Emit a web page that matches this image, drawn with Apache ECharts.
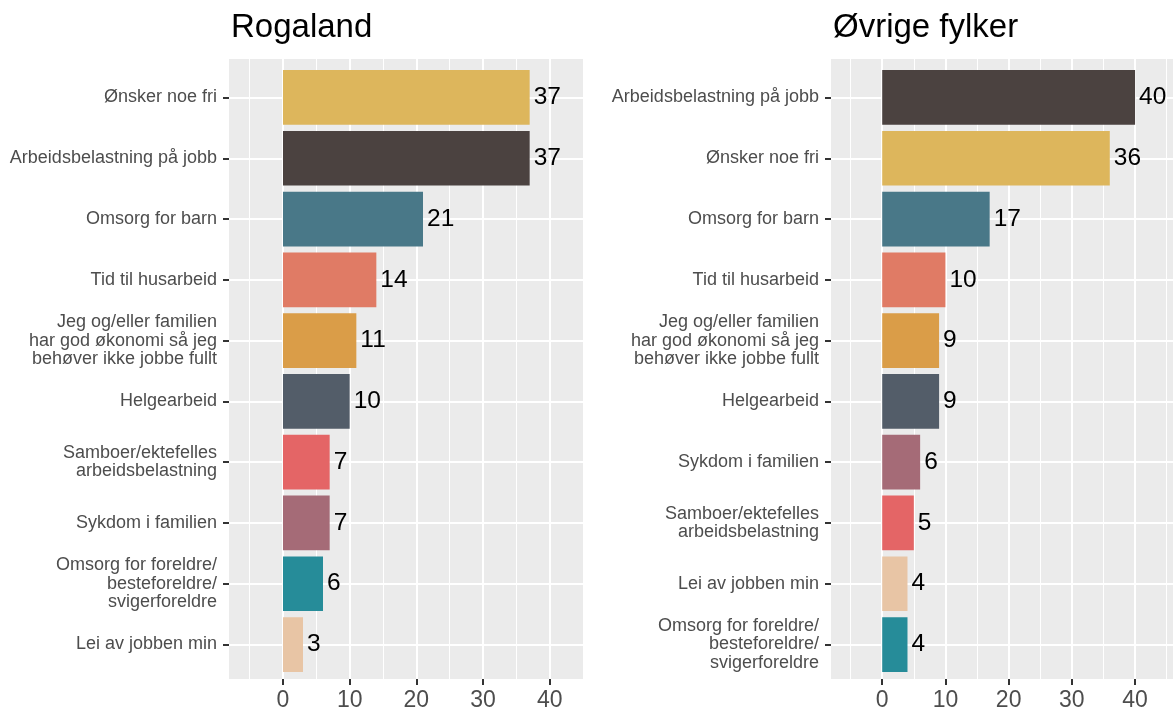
<!DOCTYPE html>
<html>
<head>
<meta charset="utf-8">
<script src="https://cdn.jsdelivr.net/npm/echarts@6/dist/echarts.min.js"></script>
<style>
  html, body { margin: 0; padding: 0; background: #fff; }
  #chart { width: 1173px; height: 710px; }
</style>
</head>
<body>
<div id="chart"></div>
<script>
  // data, top to bottom as shown
  var rogalandCats = [
    'Ønsker noe fri',
    'Arbeidsbelastning på jobb',
    'Omsorg for barn',
    'Tid til husarbeid',
    'Jeg og/eller familien\nhar god økonomi så jeg\nbehøver ikke jobbe fullt',
    'Helgearbeid',
    'Samboer/ektefelles\narbeidsbelastning',
    'Sykdom i familien',
    'Omsorg for foreldre/\nbesteforeldre/\nsvigerforeldre',
    'Lei av jobben min'
  ];
  var rogalandValues = [37, 37, 21, 14, 11, 10, 7, 7, 6, 3];

  var ovrigeCats = [
    'Arbeidsbelastning på jobb',
    'Ønsker noe fri',
    'Omsorg for barn',
    'Tid til husarbeid',
    'Jeg og/eller familien\nhar god økonomi så jeg\nbehøver ikke jobbe fullt',
    'Helgearbeid',
    'Sykdom i familien',
    'Samboer/ektefelles\narbeidsbelastning',
    'Lei av jobben min',
    'Omsorg for foreldre/\nbesteforeldre/\nsvigerforeldre'
  ];
  var ovrigeValues = [40, 36, 17, 10, 9, 9, 6, 5, 4, 4];

  var majorTicks = [0, 10, 20, 30, 40];
  var minorTicks = [-5, 5, 15, 25, 35, 45];

  var catColors = {
    'Ønsker noe fri': '#DDB65C',
    'Arbeidsbelastning på jobb': '#4B4240',
    'Omsorg for barn': '#497888',
    'Tid til husarbeid': '#E07B65',
    'Jeg og/eller familien\nhar god økonomi så jeg\nbehøver ikke jobbe fullt': '#DA9D48',
    'Helgearbeid': '#535D69',
    'Samboer/ektefelles\narbeidsbelastning': '#E46566',
    'Sykdom i familien': '#A56B77',
    'Omsorg for foreldre/\nbesteforeldre/\nsvigerforeldre': '#268C99',
    'Lei av jobben min': '#E8C5A5'
  };

  var FONT = 'Liberation Sans, Arial, sans-serif';
  var PANEL_TOP = 59, PANEL_H = 620;
  // ggplot style discrete padding: 0.6 units each side of 10 categories
  var unit = PANEL_H / 10.2;
  var DATA_TOP = PANEL_TOP + 0.1 * unit + 2, DATA_H = 10 * unit;

  function barData(cats, values) {
    return values.map(function (v, i) {
      return { value: v, itemStyle: { color: catColors[cats[i]] } };
    });
  }

  // panel (background) grid axes: vertical grid lines, x ticks and labels
  function panelXAxes(gridIndex, max) {
    return [{
      type: 'value', gridIndex: gridIndex, min: -8.1, max: max,
      axisLine: { show: false, onZero: false },
      axisTick: { show: true, length: 6, customValues: majorTicks, lineStyle: { color: '#333', width: 2 } },
      axisLabel: { customValues: majorTicks, margin: 10, fontSize: 23, color: '#4D4D4D', fontFamily: FONT },
      splitLine: { show: true, lineStyle: { color: '#fff', width: 2 } }
    }, {
      type: 'value', gridIndex: gridIndex, min: -8.1, max: max, position: 'top',
      axisLine: { show: false, onZero: false },
      axisTick: { show: false, customValues: minorTicks },
      axisLabel: { show: false },
      splitLine: { show: true, lineStyle: { color: '#fff', width: 1 } }
    }];
  }

  function dataXAxis(gridIndex, max) {
    return { type: 'value', gridIndex: gridIndex, min: -8.1, max: max, show: false, axisLine: { onZero: false }, splitLine: { show: false } };
  }

  function dummyYAxis(gridIndex) {
    return { type: 'value', gridIndex: gridIndex, show: false, axisLine: { onZero: false }, splitLine: { show: false } };
  }

  function catYAxis(gridIndex, cats) {
    return {
      type: 'category', gridIndex: gridIndex, data: cats, inverse: true,
      axisLine: { show: false, onZero: false },
      axisTick: { show: true, alignWithLabel: true, length: 6, lineStyle: { color: '#333', width: 2 } },
      axisLabel: { margin: 12, fontSize: 18, lineHeight: 18.5, color: '#4D4D4D', fontFamily: FONT, align: 'right', interval: 0 },
      splitLine: { show: true, interval: 0, alignWithLabel: true, lineStyle: { color: '#fff', width: 2 } }
    };
  }

  function series(xi, yi, cats, values) {
    return {
      type: 'bar', xAxisIndex: xi, yAxisIndex: yi,
      data: barData(cats, values),
      barCategoryGap: '10%',
      label: { show: true, position: 'right', distance: 4, fontSize: 24.5, color: '#000', fontFamily: FONT },
      silent: true
    };
  }

  var chart = echarts.init(document.getElementById('chart'));
  chart.setOption({
    backgroundColor: '#fff',
    animation: false,
    title: [
      { text: 'Rogaland', left: 226, top: 6, textStyle: { fontSize: 33, fontWeight: 'normal', color: '#000', fontFamily: FONT } },
      { text: 'Øvrige fylker', left: 828, top: 6, textStyle: { fontSize: 33, fontWeight: 'normal', color: '#000', fontFamily: FONT } }
    ],
    grid: [
      { left: 229, top: PANEL_TOP, width: 354, height: PANEL_H, show: true, backgroundColor: '#EBEBEB', borderWidth: 0, outerBoundsMode: 'none' },
      { left: 229, top: DATA_TOP, width: 354, height: DATA_H, outerBoundsMode: 'none' },
      { left: 831, top: PANEL_TOP, width: 342, height: PANEL_H, show: true, backgroundColor: '#EBEBEB', borderWidth: 0, outerBoundsMode: 'none' },
      { left: 831, top: DATA_TOP, width: 342, height: DATA_H, outerBoundsMode: 'none' }
    ],
    xAxis: panelXAxes(0, 45).concat([dataXAxis(1, 45)], panelXAxes(2, 46), [dataXAxis(3, 46)]),
    yAxis: [dummyYAxis(0), catYAxis(1, rogalandCats), dummyYAxis(2), catYAxis(3, ovrigeCats)],
    series: [
      series(2, 1, rogalandCats, rogalandValues),
      series(5, 3, ovrigeCats, ovrigeValues)
    ]
  });
</script>
</body>
</html>
